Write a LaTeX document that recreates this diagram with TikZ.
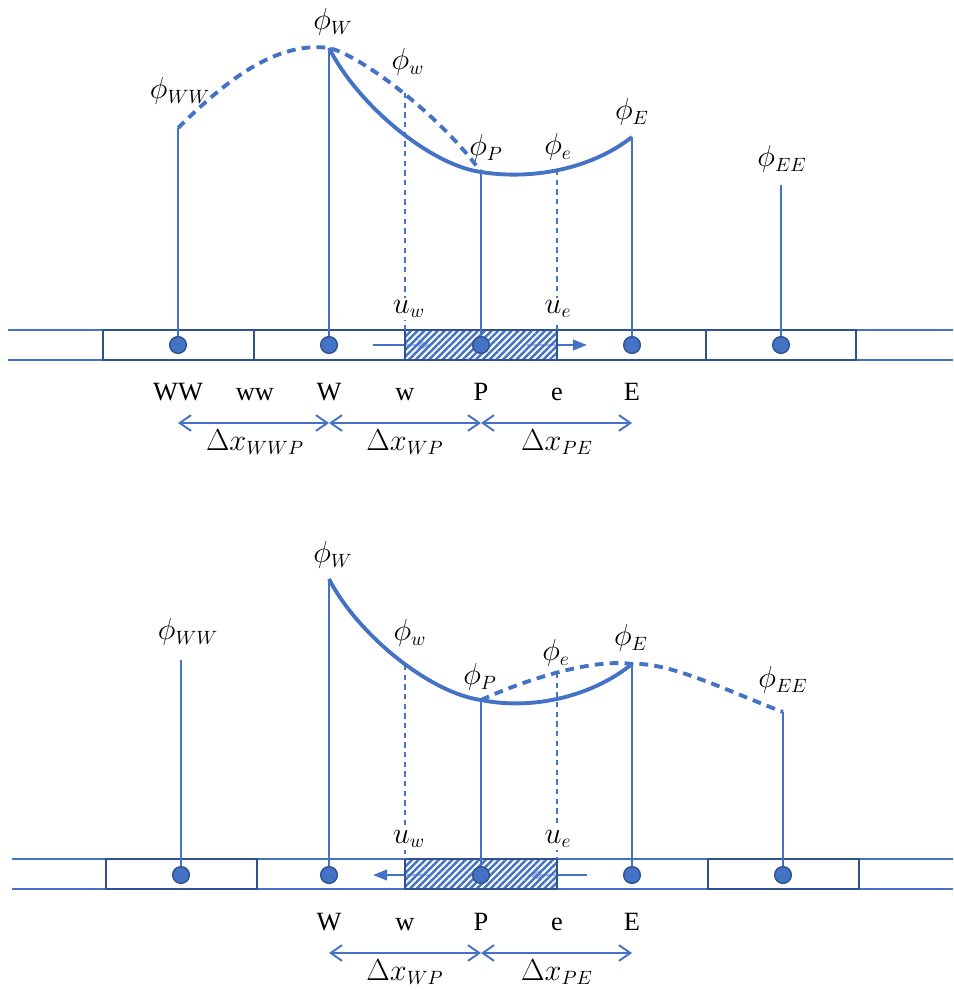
\documentclass[tikz,border=0pt]{standalone}
\usepackage{fontspec}
\setmainfont{Liberation Serif}
\usepackage{tikz}
\usetikzlibrary{arrows.meta,patterns.meta}
\definecolor{lineblue}{HTML}{4472C4}
\definecolor{boxblue}{HTML}{2F528F}

\begin{document}
\begin{tikzpicture}[
        % Unita: un pixel dell'immagine, asse y verso il basso
        x=0.02cm, y=-0.02cm,
        font=\fontsize{15}{18}\selectfont,
        % Stili della griglia e dei volumi
        band/.style={lineblue, line width=1.1pt},
        cell/.style={draw=boxblue, line width=1.1pt},
        hatchcell/.style={draw=boxblue, line width=1.1pt,
            preaction={fill=white, fill opacity=0.55},
            pattern={Lines[angle=45, distance=2.7pt, line width=1.4pt]},
            pattern color=lineblue},
        point/.style={circle, fill=lineblue, draw=boxblue, line width=0.8pt,
            minimum size=9.5pt, inner sep=0pt},
        % Stili delle linee
        stem/.style={lineblue, line width=1pt},
        face/.style={lineblue, line width=1pt, dash pattern=on 3pt off 2.5pt},
        profile/.style={lineblue, line width=2.2pt, line join=round},
        guess/.style={profile, dash pattern=on 5pt off 3.5pt},
        flow/.style={lineblue, line width=1.3pt, -{Triangle[length=8pt, width=6pt]}},
        span/.style={lineblue, line width=1.1pt,
            {Straight Barb[length=6.5pt, width=9pt]}-{Straight Barb[length=6.5pt, width=9pt]}},
        lbl/.style={anchor=base, inner sep=0pt},
        phi/.style={font=\fontsize{16}{19}\selectfont},
        vel/.style={fill=white, inner sep=1pt, font=\fontsize{16}{19}\selectfont}
    ]
    \useasboundingbox (0,0) rectangle (953,990);

    % ==============================
    % 1. FLUSSO VERSO EST (u > 0)
    % ==============================
    \begin{scope}
        % Banda della griglia
        \draw[band] (8,330) -- (953,330);
        \draw[band] (8,360) -- (953,360);

        % Celle
        \draw[cell] (103,330) rectangle (254,360);
        \draw[cell] (254,330) rectangle (405,360);
        \draw[cell] (557,330) rectangle (706,360);
        \draw[cell] (706,330) rectangle (856,360);

        % Velocita sulle facce
        \coordinate (uwa0) at (373,345); \coordinate (uwa1) at (432,345);
        \coordinate (uea0) at (527,345); \coordinate (uea1) at (587,345);
        \draw[flow] (uwa0) -- (uwa1);
        \draw[flow] (uea0) -- (uea1);

        % Volume di controllo P
        \draw[hatchcell] (405,330) rectangle (557,360);

        % Nodi
        \node[point] (WWa) at (178,345) {}; \node[point] (Wa) at (329,345) {};
        \node[point] (Pa) at (481,345) {};  \node[point] (Ea) at (632,345) {};
        \node[point] (EEa) at (781,345) {};

        % Valori di phi
        \coordinate (cWWa) at (178,128); \coordinate (cWa) at (329,48);
        \coordinate (cPa) at (481,172);  \coordinate (cEa) at (632,137);
        \coordinate (cEEa) at (781,185);
        \coordinate (cwa) at (405,93);   \coordinate (cea) at (557,170);
        \coordinate (fwa) at (405,330);  \coordinate (fea) at (557,330);

        \draw[stem] (cWWa) -- (WWa); \draw[stem] (cWa) -- (Wa);
        \draw[stem] (cPa) -- (Pa);   \draw[stem] (cEa) -- (Ea);
        \draw[stem] (cEEa) -- (EEa);
        \draw[face] (cwa) -- (fwa);  \draw[face] (cea) -- (fea);

        % Profili (tratteggio: upwind)
        \draw[guess] (cWWa) .. controls (215,92) and (270,40) .. (cWa)
            .. controls (360,55) and (440,115) .. (cPa);
        \draw[profile] (cWa) .. controls (358,105) and (430,165) .. (cPa)
            .. controls (530,180) and (590,170) .. (cEa);

        % Etichette
        \node[phi] (pWWa) at (180,91) {$\phi_{WW}$};
        \node[phi] (pWa) at (333,22) {$\phi_W$};
        \node[phi] (pwa) at (408,62) {$\phi_w$};
        \node[phi] (pPa) at (486,148) {$\phi_P$};
        \node[phi] (pea) at (558,147) {$\phi_e$};
        \node[phi] (pEa) at (632,112) {$\phi_E$};
        \node[phi] (pEEa) at (782,159) {$\phi_{EE}$};
        \node[vel] (vwa) at (409,309) {$u_w$};
        \node[vel] (vea) at (558,309) {$u_e$};

        \node[lbl] (nWWa) at (178,400) {WW}; \node[lbl] (nwwa) at (255,400) {ww};
        \node[lbl] (nWa) at (329,400) {W};   \node[lbl] (nwa) at (405,400) {w};
        \node[lbl] (nPa) at (481,400) {P};   \node[lbl] (nea) at (557,400) {e};
        \node[lbl] (nEa) at (632,400) {E};

        % Distanze
        \coordinate (dWWa) at (178,423); \coordinate (dWa) at (329,423);
        \coordinate (dPa) at (481,423);  \coordinate (dEa) at (632,423);
        \draw[span] (dWWa) -- (dWa);
        \draw[span] (dWa) -- (dPa);
        \draw[span] (dPa) -- (dEa);
        \node[lbl, phi] (xWWPa) at (255,450) {$\Delta x_{WWP}$};
        \node[lbl, phi] (xWPa) at (405,450) {$\Delta x_{WP}$};
        \node[lbl, phi] (xPEa) at (557,450) {$\Delta x_{PE}$};
    \end{scope}

    % ==============================
    % 2. FLUSSO VERSO OVEST (u < 0)
    % ==============================
    \begin{scope}[shift={(0,530)}]
        % Banda della griglia
        \draw[band] (12,329) -- (953,329);
        \draw[band] (12,359) -- (953,359);

        % Celle
        \draw[cell] (106,329) rectangle (257,359);
        \draw[cell] (708,329) rectangle (859,359);

        % Velocita sulle facce
        \coordinate (uwb0) at (432,345); \coordinate (uwb1) at (373,345);
        \coordinate (ueb0) at (587,345); \coordinate (ueb1) at (527,345);
        \draw[flow] (uwb0) -- (uwb1);
        \draw[flow] (ueb0) -- (ueb1);

        % Volume di controllo P
        \draw[hatchcell] (405,329) rectangle (557,359);

        % Nodi
        \node[point] (WWb) at (181,345) {}; \node[point] (Wb) at (329,345) {};
        \node[point] (Pb) at (481,345) {};  \node[point] (Eb) at (632,345) {};
        \node[point] (EEb) at (783,345) {};

        % Valori di phi
        \coordinate (cWWb) at (181,130); \coordinate (cWb) at (329,49);
        \coordinate (cPb) at (481,170);  \coordinate (cEb) at (632,134);
        \coordinate (cEEb) at (783,182);
        \coordinate (cwb) at (405,135);  \coordinate (ceb) at (557,143);
        \coordinate (fwb) at (405,329);  \coordinate (feb) at (557,329);

        \draw[stem] (cWWb) -- (WWb); \draw[stem] (cWb) -- (Wb);
        \draw[stem] (cPb) -- (Pb);   \draw[stem] (cEb) -- (Eb);
        \draw[stem] (cEEb) -- (EEb);
        \draw[face] (cwb) -- (fwb);  \draw[face] (ceb) -- (feb);

        % Profili (tratteggio: upwind)
        \draw[guess] (cPb) .. controls (520,152) and (590,128) .. (cEb)
            .. controls (670,132) and (725,160) .. (cEEb);
        \draw[profile] (cWb) .. controls (358,105) and (430,163) .. (cPb)
            .. controls (530,180) and (590,168) .. (cEb);

        % Etichette
        \node[phi] (pWWb) at (188,102) {$\phi_{WW}$};
        \node[phi] (pWb) at (333,25) {$\phi_W$};
        \node[phi] (pwb) at (410,103) {$\phi_w$};
        \node[phi] (pPb) at (480,147) {$\phi_P$};
        \node[phi] (peb) at (556,123) {$\phi_e$};
        \node[phi] (pEb) at (631,108) {$\phi_E$};
        \node[phi] (pEEb) at (783,150) {$\phi_{EE}$};
        \node[vel] (vwb) at (409,309) {$u_w$};
        \node[vel] (veb) at (558,309) {$u_e$};

        \node[lbl] (nWb) at (329,400) {W}; \node[lbl] (nwb) at (405,400) {w};
        \node[lbl] (nPb) at (481,400) {P}; \node[lbl] (neb) at (557,400) {e};
        \node[lbl] (nEb) at (632,400) {E};

        % Distanze
        \coordinate (dWb) at (329,423); \coordinate (dPb) at (481,423);
        \coordinate (dEb) at (632,423);
        \draw[span] (dWb) -- (dPb);
        \draw[span] (dPb) -- (dEb);
        \node[lbl, phi] (xWPb) at (405,450) {$\Delta x_{WP}$};
        \node[lbl, phi] (xPEb) at (557,450) {$\Delta x_{PE}$};
    \end{scope}

\end{tikzpicture}
\end{document}
